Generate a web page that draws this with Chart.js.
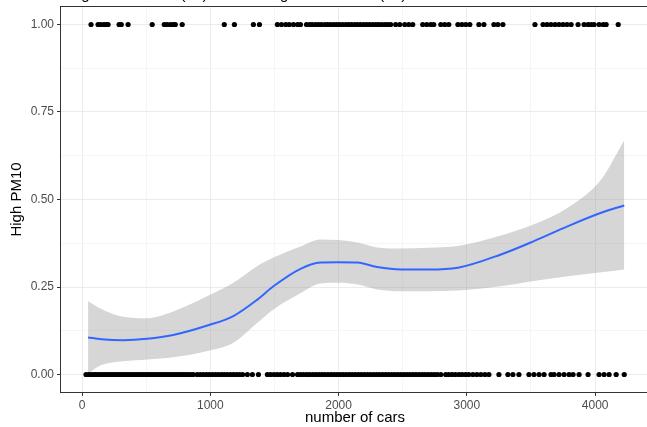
<!DOCTYPE html>
<html>
<head>
<meta charset="utf-8">
<script src="https://cdn.jsdelivr.net/npm/chart.js@4/dist/chart.umd.min.js"></script>
<style>
  html, body { margin: 0; padding: 0; background: #fff; overflow: hidden; }
  #wrap { width: 653px; height: 427px; position: relative; }
</style>
</head>
<body>
<div id="wrap"><canvas id="pmChart"></canvas></div>
<script>
// cars on days with high PM10 (y = 1)
const highX = [70, 125, 146, 170, 188, 203, 289, 306, 359, 547, 641, 662, 688, 709, 727, 781,
  1109, 1188, 1336, 1383, 1523, 1555, 1588, 1615, 1648, 1680, 1703, 1750, 1774, 1795, 1821,
  1844, 1866, 1893, 1914, 1937, 1962, 1984, 2006, 2031, 2057, 2078, 2101, 2126, 2148, 2171,
  2196, 2219, 2241, 2266, 2290, 2312, 2336, 2361, 2383, 2406, 2445, 2477, 2516, 2547, 2578,
  2656, 2688, 2719, 2742, 2797, 2828, 2859, 2930, 2961, 2992, 3023, 3094, 3133, 3211, 3242,
  3281, 3531, 3594, 3625, 3656, 3688, 3719, 3750, 3781, 3813, 3867, 3914, 3945, 3969, 3992,
  4031, 4063, 4086, 4180];
// cars on days without high PM10 (y = 0)
const lowX = [31, 52, 70, 88, 105, 121, 140, 158, 176, 193, 211, 230, 248, 265, 283, 301, 320,
  338, 355, 372, 390, 410, 428, 446, 463, 481, 500, 518, 536, 553, 571, 590, 608, 627, 645, 662,
  680, 699, 717, 735, 752, 770, 789, 807, 826, 845, 867,
  898, 922, 945, 970, 992, 1016, 1040, 1063, 1088, 1110, 1133, 1158, 1180, 1205, 1228, 1252, 1289,
  1328, 1375, 1445, 1470, 1497, 1522, 1547, 1575, 1602, 1641,
  1680, 1703, 1727, 1752, 1775, 1799, 1822, 1846, 1870, 1893, 1917, 1941, 1964, 1988, 2012, 2035,
  2059, 2083, 2106, 2130, 2154, 2177, 2201, 2225, 2248, 2272, 2296, 2319, 2343, 2367, 2390, 2414,
  2438, 2461, 2485, 2509, 2532, 2556, 2580, 2603, 2627, 2651, 2674, 2698, 2722, 2745, 2769, 2797,
  2835, 2859, 2885, 2910, 2938, 2963, 2990, 3015, 3047, 3078, 3109, 3141, 3172,
  3250, 3320, 3359, 3406, 3484, 3523, 3563, 3602, 3656, 3680, 3719, 3758, 3797, 3828, 3875,
  3945, 4031, 4070, 4109, 4164, 4227];

// smoother and its confidence band
const smoothX = [47, 150, 320, 508, 711, 977, 1180, 1367, 1492, 1703, 1859, 2000, 2148, 2300, 2484, 2700, 2930, 3266, 3523, 3789, 4047, 4227];
const smoothY = [0.106, 0.101, 0.098, 0.102, 0.113, 0.140, 0.167, 0.214, 0.252, 0.302, 0.320, 0.321, 0.320, 0.307, 0.300, 0.300, 0.305, 0.343, 0.381, 0.424, 0.462, 0.483];
const upperY = [0.209, 0.187, 0.165, 0.161, 0.180, 0.224, 0.262, 0.310, 0.334, 0.366, 0.386, 0.384, 0.377, 0.363, 0.360, 0.362, 0.367, 0.397, 0.429, 0.477, 0.557, 0.669];
const lowerY = [0.003, 0.027, 0.038, 0.043, 0.049, 0.067, 0.091, 0.148, 0.186, 0.232, 0.260, 0.262, 0.257, 0.243, 0.238, 0.238, 0.240, 0.252, 0.267, 0.281, 0.292, 0.300];

const xTicks = [0, 500, 1000, 1500, 2000, 2500, 3000, 3500, 4000];
const yTicks = [0, 0.125, 0.25, 0.375, 0.5, 0.625, 0.75, 0.875, 1];

const titleText = 'High PM10 level (=1) and not High PM10 level (=0)';

const pts = (xs, ys) => xs.map((x, i) => ({ x: x, y: Array.isArray(ys) ? ys[i] : ys }));
const isMajorX = v => v % 1000 === 0;
const isMajorY = v => Math.abs(v * 4 - Math.round(v * 4)) < 1e-9;

const frame = {
    id: 'frame',
    afterDraw(chart) {
        const { ctx, chartArea: a } = chart;
        ctx.save();
        ctx.strokeStyle = '#333333';
        ctx.lineWidth = 1;
        ctx.strokeRect(a.left - 0.5, a.top - 0.5, a.right - a.left + 1, a.bottom - a.top + 1);
        // title, mostly cut off by the top of the image
        ctx.fillStyle = '#000';
        ctx.font = '15px "Liberation Sans", Arial, sans-serif';
        ctx.textBaseline = 'alphabetic';
        ctx.fillText(titleText, 67, -1);
        ctx.restore();
    }
};

new Chart(document.getElementById('pmChart').getContext('2d'), {
    type: 'scatter',
    data: {
        datasets: [
            { data: pts(highX, 1), backgroundColor: '#000', borderColor: '#000', pointRadius: 2.6, borderWidth: 0 },
            { data: pts(lowX, 0), backgroundColor: '#000', borderColor: '#000', pointRadius: 2.6, borderWidth: 0 },
            { data: pts(smoothX, smoothY), showLine: true, borderColor: '#3366FF', borderWidth: 2,
              pointRadius: 0, cubicInterpolationMode: 'monotone', fill: false },
            { data: pts(smoothX, upperY), showLine: true, borderWidth: 0, borderColor: 'rgba(0,0,0,0)',
              pointRadius: 0, cubicInterpolationMode: 'monotone', fill: 4, backgroundColor: 'rgba(153,153,153,0.4)' },
            { data: pts(smoothX, lowerY), showLine: true, borderWidth: 0, borderColor: 'rgba(0,0,0,0)',
              pointRadius: 0, cubicInterpolationMode: 'monotone', fill: false }
        ]
    },
    options: {
        responsive: true,
        maintainAspectRatio: false,
        animation: false,
        layout: { padding: { top: 7, left: 8, right: 0, bottom: 0 } },
        plugins: {
            legend: { display: false },
            tooltip: { enabled: false }
        },
        scales: {
            x: {
                type: 'linear',
                min: -164,
                max: 4420,
                afterBuildTicks: s => { s.ticks = xTicks.map(v => ({ value: v })); },
                afterFit: s => { s.height = 35; s.paddingLeft = 0; s.paddingRight = 0; },
                grid: {
                    color: c => isMajorX(c.tick.value) ? '#EBEBEB' : '#F5F5F5',
                    tickColor: c => isMajorX(c.tick.value) ? '#333333' : 'rgba(0,0,0,0)',
                    tickLength: 4
                },
                border: { display: false },
                ticks: {
                    color: '#4D4D4D',
                    padding: 2,
                    maxRotation: 0,
                    autoSkip: false,
                    font: { family: '"Liberation Sans", Arial, sans-serif', size: 12 },
                    callback: v => isMajorX(v) ? String(v) : ''
                },
                title: {
                    display: true,
                    text: 'number of cars',
                    color: '#000',
                    padding: { top: 0, bottom: 0 },
                    font: { family: '"Liberation Sans", Arial, sans-serif', size: 15 }
                }
            },
            y: {
                type: 'linear',
                min: -0.05,
                max: 1.05,
                afterBuildTicks: s => { s.ticks = yTicks.map(v => ({ value: v })); },
                afterFit: s => { s.width = 53; s.paddingTop = 0; s.paddingBottom = 0; },
                grid: {
                    color: c => isMajorY(c.tick.value) ? '#EBEBEB' : '#F5F5F5',
                    tickColor: c => isMajorY(c.tick.value) ? '#333333' : 'rgba(0,0,0,0)',
                    tickLength: 4
                },
                border: { display: false },
                ticks: {
                    color: '#4D4D4D',
                    padding: 3,
                    autoSkip: false,
                    font: { family: '"Liberation Sans", Arial, sans-serif', size: 12 },
                    callback: v => isMajorY(v) ? v.toFixed(2) : ''
                },
                title: {
                    display: true,
                    text: 'High PM10',
                    color: '#000',
                    padding: { top: 0, bottom: 0 },
                    font: { family: '"Liberation Sans", Arial, sans-serif', size: 15 }
                }
            }
        }
    },
    plugins: [frame]
});
</script>
</body>
</html>
